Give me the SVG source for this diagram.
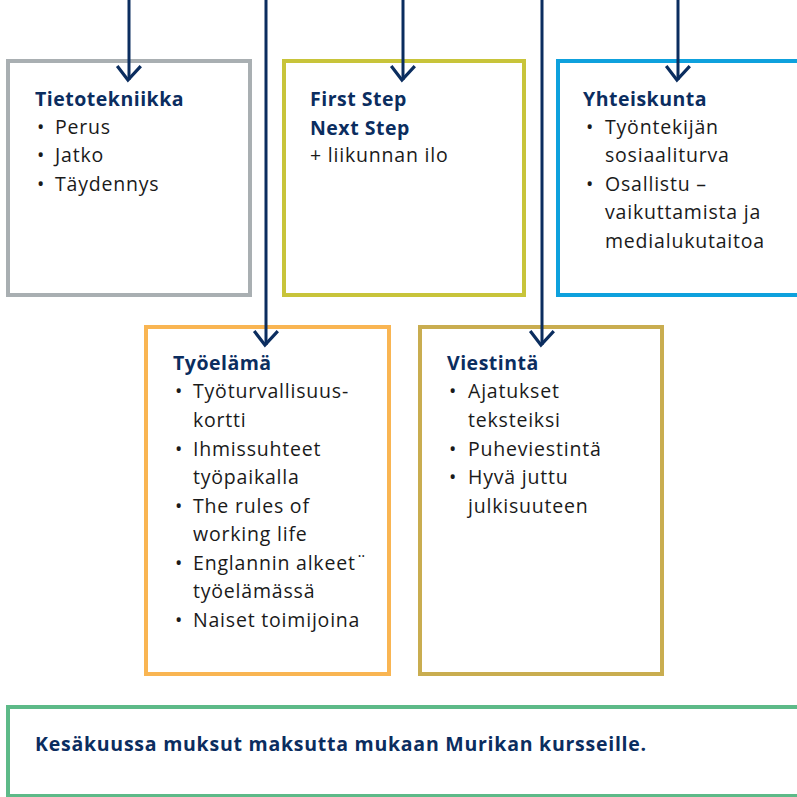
<svg xmlns="http://www.w3.org/2000/svg" width="797" height="797" viewBox="0 0 797 797">
  <style>
    .box { fill: #ffffff; stroke-width: 4; }
    .title { font-family: "Open Sans", "Liberation Sans", sans-serif; font-weight: 700; font-size: 19.5px; letter-spacing: 0.5px; fill: #0b2d5f; }
    .body { font-family: "Open Sans", "Liberation Sans", sans-serif; font-weight: 400; font-size: 19.5px; letter-spacing: 0.8px; fill: #1a1a1a; }
    .note { letter-spacing: 0.75px; }
    .conn { stroke: #0b2d5f; stroke-width: 3; fill: none; }
  </style>
  <defs>
    <marker id="arrow" markerUnits="userSpaceOnUse" markerWidth="30" markerHeight="30" viewBox="-16 -14 20 28" refX="0" refY="0" orient="auto">
      <path d="M-13,-11 L0,1 L-13,11" fill="none" stroke="#0b2d5f" stroke-width="3"/>
    </marker>
  </defs>
  <rect width="797" height="797" fill="#ffffff"/>

  <g id="tietotekniikka">
    <rect class="box" x="8" y="61" width="242" height="234" stroke="#a9afb2"/>
    <text class="title" x="35" y="106">Tietotekniikka</text>
    <text class="body" x="37" y="134">•</text><text class="body" x="55" y="134">Perus</text>
    <text class="body" x="37" y="162">•</text><text class="body" x="55" y="162">Jatko</text>
    <text class="body" x="37" y="191">•</text><text class="body" x="55" y="191">Täydennys</text>
  </g>

  <g id="firststep">
    <rect class="box" x="284" y="61" width="240" height="234" stroke="#c8c43a"/>
    <text class="title" x="310" y="106">First Step</text>
    <text class="title" x="310" y="135">Next Step</text>
    <text class="body" x="310" y="162">+ liikunnan ilo</text>
  </g>

  <g id="yhteiskunta">
    <rect class="box" x="558" y="61" width="260" height="234" stroke="#0ea1dd"/>
    <text class="title" x="583" y="106">Yhteiskunta</text>
    <text class="body" x="586" y="134">•</text><text class="body" x="605" y="134">Työntekijän</text>
    <text class="body" x="605" y="162">sosiaaliturva</text>
    <text class="body" x="586" y="191">•</text><text class="body" x="605" y="191">Osallistu –</text>
    <text class="body" x="605" y="219">vaikuttamista ja</text>
    <text class="body" x="605" y="248">medialukutaitoa</text>
  </g>

  <g id="tyoelama">
    <rect class="box" x="146" y="327" width="243" height="347" stroke="#f9b552"/>
    <text class="title" x="173" y="370">Työelämä</text>
    <text class="body" x="175" y="398">•</text><text class="body" x="193" y="398">Työturvallisuus-</text>
    <text class="body" x="193" y="427">kortti</text>
    <text class="body" x="175" y="456">•</text><text class="body" x="193" y="456">Ihmissuhteet</text>
    <text class="body" x="193" y="484">työpaikalla</text>
    <text class="body" x="175" y="513">•</text><text class="body" x="193" y="513">The rules of</text>
    <text class="body" x="193" y="541">working life</text>
    <text class="body" x="175" y="570">•</text><text class="body" x="193" y="570">Englannin alkeet¨</text>
    <text class="body" x="193" y="598">työelämässä</text>
    <text class="body" x="175" y="627">•</text><text class="body" x="193" y="627">Naiset toimijoina</text>
  </g>

  <g id="viestinta">
    <rect class="box" x="420" y="327" width="242" height="347" stroke="#c9ad50"/>
    <text class="title" x="447" y="370">Viestintä</text>
    <text class="body" x="449" y="398">•</text><text class="body" x="468" y="398">Ajatukset</text>
    <text class="body" x="468" y="427">teksteiksi</text>
    <text class="body" x="449" y="456">•</text><text class="body" x="468" y="456">Puheviestintä</text>
    <text class="body" x="449" y="484">•</text><text class="body" x="468" y="484">Hyvä juttu</text>
    <text class="body" x="468" y="513">julkisuuteen</text>
  </g>

  <g id="kesakuu">
    <rect class="box" x="8" y="707" width="820" height="89" stroke="#5dba88"/>
    <text class="title note" x="35" y="751">Kesäkuussa muksut maksutta mukaan Murikan kursseille.</text>
  </g>

  <g id="connectors">
    <line class="conn" x1="129" y1="0" x2="129" y2="80" marker-end="url(#arrow)"/>
    <line class="conn" x1="403" y1="0" x2="403" y2="80" marker-end="url(#arrow)"/>
    <line class="conn" x1="678" y1="0" x2="678" y2="80" marker-end="url(#arrow)"/>
    <line class="conn" x1="266" y1="0" x2="266" y2="345" marker-end="url(#arrow)"/>
    <line class="conn" x1="542" y1="0" x2="542" y2="345" marker-end="url(#arrow)"/>
  </g>
</svg>
